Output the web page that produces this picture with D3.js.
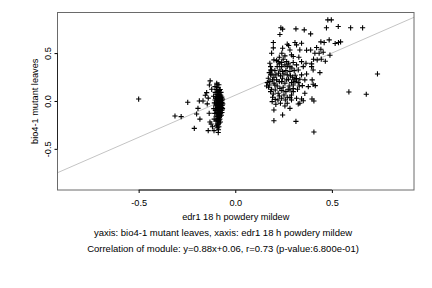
<!DOCTYPE html>
<html>
<head>
<meta charset="utf-8">
<script src="https://cdn.jsdelivr.net/npm/d3@7"></script>
<style>
  html, body { margin: 0; padding: 0; background: #fff; }
  svg { display: block; font-family: "Liberation Sans", Arial, Helvetica, sans-serif; }
</style>
</head>
<body>
<svg id="chart" width="432" height="288"></svg>
<script>
// ---- data ----
const xTicks = [-0.5, 0.0, 0.5];
const yTicks = [-0.5, 0.0, 0.5];
const xLabel = "edr1 18 h powdery mildew";
const yLabel = "bio4-1 mutant leaves";
const subtitle1 = "yaxis: bio4-1 mutant leaves, xaxis: edr1 18 h powdery mildew";
const subtitle2 = "Correlation of module: y=0.88x+0.06, r=0.73 (p-value:6.800e-01)";
const fitSlope = 0.88;
const fitIntercept = 0.06;

// left cluster (edr1 ~ -0.1)
const leftX = [
  -0.50,-0.246,-0.312,-0.28,-0.212,-0.186,-0.193,-0.2,-0.183,-0.167,-0.14,-0.11,-0.088,-0.13,-0.134,-0.096,-0.148,-0.122,-0.14,-0.135,-0.131,-0.118,-0.105,-0.085,-0.078,-0.125,-0.145,-0.155,
  -0.112,-0.108,-0.111,-0.106,-0.109,-0.104,-0.102,-0.101,-0.103,-0.099,-0.1,-0.098,-0.097,-0.096,-0.094,-0.095,-0.093,-0.096,-0.094,-0.092,-0.095,-0.093,-0.091,
  -0.09,-0.089,-0.091,-0.088,-0.09,-0.087,-0.089,-0.088,-0.09,-0.087,-0.089,-0.088,-0.09,-0.087,-0.089,-0.088,-0.09,-0.087,
  -0.085,-0.084,-0.083,-0.085,-0.082,-0.084,-0.083,-0.085,-0.082,-0.084,-0.083,-0.085,-0.082,-0.084,-0.083,-0.085,
  -0.08,-0.079,-0.078,-0.08,-0.077,-0.079,-0.078,-0.08,-0.077,-0.079,-0.078,-0.08,-0.077,
  -0.075,-0.074,-0.073,-0.075,-0.072,-0.074,-0.073,-0.075,-0.072,
  -0.07,-0.068,-0.069,-0.067,-0.07,-0.068,-0.069,-0.066,-0.065,-0.066,
  -0.098,-0.092,-0.086,-0.081,-0.076,-0.071,-0.094,-0.082,-0.074,-0.105,-0.099
];
const leftY = [
  0.02,-0.014,-0.157,-0.164,-0.286,0.0,-0.077,-0.136,-0.19,0.0,-0.31,-0.31,-0.33,0.21,0.167,0.185,0.087,0.122,0.03,-0.129,-0.22,-0.27,0.15,0.17,0.12,-0.24,-0.03,0.06,
  0.05,-0.02,-0.08,-0.13,-0.19,0.09,0.03,-0.05,-0.1,-0.16,-0.21,-0.26,0.12,0.07,0.02,-0.01,-0.045,-0.085,-0.12,-0.165,-0.2,-0.24,-0.28,
  0.14,0.1,0.065,0.045,0.025,0.005,-0.015,-0.035,-0.055,-0.075,-0.095,-0.115,-0.135,-0.155,-0.185,-0.215,-0.25,-0.3,
  0.085,0.055,0.035,0.015,-0.005,-0.025,-0.045,-0.065,-0.085,-0.105,-0.125,-0.145,-0.17,-0.2,-0.23,-0.27,
  0.07,0.045,0.02,0.0,-0.02,-0.04,-0.06,-0.08,-0.1,-0.13,-0.16,-0.19,-0.22,
  0.06,0.03,0.005,-0.025,-0.05,-0.075,-0.1,-0.125,-0.15,
  0.04,0.01,-0.015,-0.045,-0.07,-0.095,-0.12,0.02,-0.03,-0.08,
  0.045,-0.07,-0.04,0.03,-0.045,-0.02,0.17,0.11,0.09,0.01,-0.03
];

// right cluster (edr1 ~ 0.2 - 0.5)
const rightX = [
  0.479,0.497,0.533,0.597,0.659,0.472,0.236,0.245,0.314,0.357,0.390,0.231,0.486,0.460,0.443,0.534,0.545,0.517,0.197,0.269,0.276,0.309,0.343,0.317,0.197,0.245,0.188,0.241,0.369,0.390,0.421,0.434,0.455,0.443,0.412,0.490,0.405,0.445,0.466,0.283,0.334,0.291,0.257,0.329,0.300,0.228,0.200,0.222,0.248,0.266,0.300,0.343,0.366,0.395,0.424,0.317,0.283,0.352,
  0.736,0.588,0.678,0.398,0.403,0.414,0.397,0.407,0.343,0.334,0.352,0.317,0.283,0.314,0.407,0.200,0.245,0.200,0.210,0.207,0.347,0.322,0.269,0.283,0.300,0.309,0.343,0.438,0.395,0.326,0.403,0.369,
  0.179,0.183,0.188,0.176,0.183,0.171,0.179,0.176,0.172,0.188,0.183,0.197,0.193,0.205,0.214,0.210,0.205,0.217,0.228,0.240,0.231,0.224,0.234,0.245,0.228,0.217,0.231,0.241,0.222,0.252,0.262,0.248,0.257,0.266,0.252,0.262,0.269,0.276,0.283,0.286,0.276,0.297,0.291,0.279,0.300,0.303,0.310,0.317,0.326,0.305,0.293,0.162,0.166,0.193,0.200,0.240,0.257,0.214,0.245,0.269,0.207,0.228,0.240,0.259,0.191,0.221,0.234,0.269,0.291,0.331,0.334,0.360,0.378,0.360,0.291,0.257,0.283,0.326,0.190,0.200,0.183,0.240,0.274,0.300
];
const rightY = [
  0.847,0.847,0.778,0.764,0.764,0.764,0.764,0.750,0.753,0.743,0.701,0.694,0.638,0.610,0.617,0.610,0.617,0.600,0.610,0.593,0.579,0.610,0.603,0.586,0.554,0.551,0.499,0.499,0.530,0.533,0.558,0.499,0.509,0.540,0.499,0.478,0.436,0.436,0.415,0.533,0.533,0.481,0.471,0.457,0.464,0.457,0.429,0.411,0.436,0.411,0.401,0.411,0.394,0.387,0.429,0.377,0.359,0.359,
  0.282,0.094,0.070,0.220,0.174,0.160,0.021,0.0,0.021,-0.024,0.003,0.028,0.035,-0.213,-0.324,-0.206,-0.146,-0.094,-0.035,0.017,0.160,0.122,0.038,0.115,0.129,0.202,0.272,0.296,0.359,0.324,0.324,0.282,
  0.394,0.359,0.324,0.296,0.272,0.237,0.202,0.167,0.143,0.122,0.098,0.073,0.038,0.167,0.220,0.272,0.317,0.359,0.387,0.359,0.324,0.289,0.262,0.237,0.202,0.157,0.132,0.108,0.080,0.063,0.098,0.143,0.185,0.220,0.282,0.317,0.359,0.394,0.307,0.262,0.227,0.248,0.192,0.157,0.167,0.220,0.268,0.234,0.192,0.317,0.345,0.157,0.192,0.220,0.185,0.401,0.377,0.422,0.307,0.272,0.115,0.052,0.028,0.010,-0.007,0.010,-0.024,-0.024,0.063,0.157,0.227,0.220,0.150,0.080,0.010,-0.052,-0.077,-0.031,0.282,0.248,0.324,0.202,0.122,0.098
];

// ---- chart ----
const svg = d3.select("#chart");
const W = 432, H = 288;
const L = 57.5, R = 414, T = 12.5, B = 190;
const FS = 9.2;
const FS2 = 9.5;

const x = d3.scaleLinear().domain([-0.92, 0.925]).range([L, R]);
const y = d3.scaleLinear().domain([-0.93, 0.924]).range([B, T]);

svg.append("rect").attr("width", W).attr("height", H).attr("fill", "#fff");

svg.append("clipPath").attr("id", "clip")
  .append("rect").attr("x", L).attr("y", T).attr("width", R - L).attr("height", B - T);

// regression line
const x0 = x.domain()[0], x1 = x.domain()[1];
svg.append("line")
  .attr("clip-path", "url(#clip)")
  .attr("x1", x(x0)).attr("y1", y(fitSlope * x0 + fitIntercept))
  .attr("x2", x(x1)).attr("y2", y(fitSlope * x1 + fitIntercept))
  .attr("stroke", "#c4c4c4").attr("stroke-width", 1);

// points
const pts = [];
leftX.forEach((v, i) => pts.push([v, leftY[i]]));
rightX.forEach((v, i) => pts.push([v, rightY[i]]));
const arm = 2.6;
svg.append("g").attr("clip-path", "url(#clip)")
  .selectAll("path").data(pts).join("path")
  .attr("d", d => {
    const px = x(d[0]), py = y(d[1]);
    return `M${px - arm},${py}H${px + arm}M${px},${py - arm}V${py + arm}`;
  })
  .attr("stroke", "#000").attr("stroke-width", 1.1).attr("fill", "none");

// frame
svg.append("rect")
  .attr("x", L).attr("y", T).attr("width", R - L).attr("height", B - T)
  .attr("fill", "none").attr("stroke", "#6a6a6a").attr("stroke-width", 1);

// axes
const fmt = d => d.toFixed(1);
const gx = svg.append("g").attr("transform", `translate(0,${B})`)
  .call(d3.axisBottom(x).tickValues(xTicks).tickFormat(fmt).tickSize(3).tickPadding(6));
gx.select(".domain").remove();
gx.append("line").attr("x1", x(xTicks[0])).attr("x2", x(xTicks[xTicks.length - 1]))
  .attr("stroke", "#222").attr("stroke-width", 1);
gx.selectAll("text").attr("font-size", FS).attr("font-family", "Liberation Sans, Arial, sans-serif").attr("fill", "#000");

const gy = svg.append("g").attr("transform", `translate(${L},0)`)
  .call(d3.axisLeft(y).tickValues(yTicks).tickFormat(fmt).tickSize(3).tickPadding(6));
gy.select(".domain").remove();
gy.append("line").attr("y1", y(yTicks[0])).attr("y2", y(yTicks[yTicks.length - 1]))
  .attr("stroke", "#222").attr("stroke-width", 1);
gy.selectAll(".tick text")
  .attr("font-size", FS).attr("font-family", "Liberation Sans, Arial, sans-serif").attr("fill", "#000")
  .attr("x", null).attr("dy", null)
  .attr("text-anchor", "middle")
  .attr("transform", "translate(-7,0) rotate(-90)");

// titles
const cx = (L + R) / 2;
const subCx = 223;
svg.append("text").attr("x", cx).attr("y", 219.5).attr("text-anchor", "middle")
  .attr("font-size", FS).text(xLabel);
svg.append("text").attr("transform", `translate(37.5,${(T + B) / 2}) rotate(-90)`)
  .attr("text-anchor", "middle").attr("font-size", FS).text(yLabel);
svg.append("text").attr("x", subCx).attr("y", 235.5).attr("text-anchor", "middle")
  .attr("font-size", FS2).text(subtitle1);
svg.append("text").attr("x", subCx).attr("y", 251.5).attr("text-anchor", "middle")
  .attr("font-size", FS2).text(subtitle2);
</script>
</body>
</html>
